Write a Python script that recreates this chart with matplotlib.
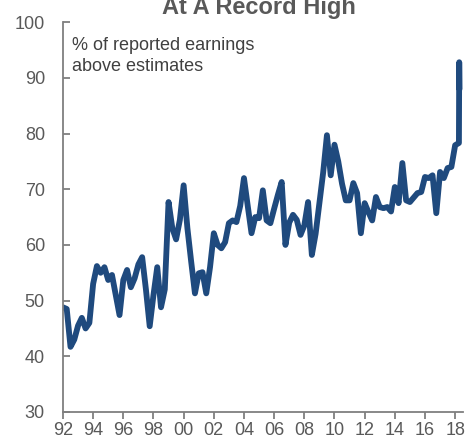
import matplotlib
matplotlib.use("Agg")
import matplotlib.pyplot as plt
import numpy as np

# quarterly share of reported earnings above estimates, 1992Q1 onwards
beat_pct = [
    48.8, 48.5, 41.7, 43.0, 45.5, 46.9, 45.0, 46.0, 53.0, 56.2,
    55.0, 56.0, 53.7, 54.6, 51.0, 47.4, 53.7, 55.5, 52.4, 54.0,
    56.5, 57.8, 52.0, 45.4, 51.0, 56.0, 48.8, 52.0, 67.7, 63.0,
    61.0, 64.5, 70.7, 63.0, 57.0, 51.3, 54.9, 55.1, 51.3, 56.0,
    62.1, 60.0, 59.4, 60.5, 63.9, 64.4, 64.1, 67.0, 72.0, 67.0,
    62.1, 65.0, 64.8, 69.8, 64.4, 63.9, 66.5, 69.0, 71.3, 60.0,
    64.0, 65.4, 64.5, 61.8, 63.5, 67.7, 58.2, 62.0, 67.5, 73.0,
    79.7, 72.5, 78.0, 75.0, 71.0, 68.0, 68.0, 71.1, 69.3, 62.1,
    67.5, 65.9, 64.4, 68.6, 66.8, 66.6, 66.8, 66.0, 70.4, 67.5,
    74.7, 68.0, 67.7, 68.5, 69.3, 69.5, 72.2, 72.0, 72.5, 65.7,
    73.1, 72.0, 73.8, 74.0, 77.9, 78.3,
]
# latest partial-quarter readings
recent_dates = [2018.27, 2018.29]
recent_pct = [92.8, 88.0]

dates = [1992 + 0.25 * i for i in range(len(beat_pct))] + recent_dates
values = beat_pct + recent_pct

tick_years = list(range(1992, 2019, 2))
tick_labels = ["%02d" % (y % 100) for y in tick_years]

plt.rcParams["font.family"] = ["Liberation Sans", "DejaVu Sans"]
grey = "#595959"

fig = plt.figure(figsize=(4.77, 4.43), dpi=100)
ax = fig.add_axes([0.132, 0.070, 0.838, 0.880])

ax.plot(dates, values, color="#1F4A7E", lw=4.2, solid_joinstyle="round",
        solid_capstyle="round")

ax.set_xlim(1992, 2018.5)
ax.set_ylim(30, 100)
ax.set_yticks(range(30, 101, 10))
ax.set_xticks(tick_years)
ax.set_xticklabels(tick_labels)

for s in ["top", "right"]:
    ax.spines[s].set_visible(False)
for s in ["left", "bottom"]:
    ax.spines[s].set_color("#7f7f7f")
    ax.spines[s].set_linewidth(1.3)

ax.tick_params(axis="y", direction="in", length=5, width=1.3, color="#7f7f7f",
               labelsize=13, labelcolor=grey, pad=13)
ax.tick_params(axis="x", direction="out", length=5, width=1.3, color="#7f7f7f",
               labelsize=13, labelcolor=grey, pad=2)

ax.text(0.022, 0.962, "% of reported earnings\nabove estimates",
        transform=ax.transAxes, ha="left", va="top", fontsize=13,
        color="#404040", linespacing=1.3)

fig.text(0.543, 0.968, "At A Record High", ha="center", va="baseline",
         fontsize=17, fontweight="bold", color=grey)

fig.savefig("out.png", dpi=100)
